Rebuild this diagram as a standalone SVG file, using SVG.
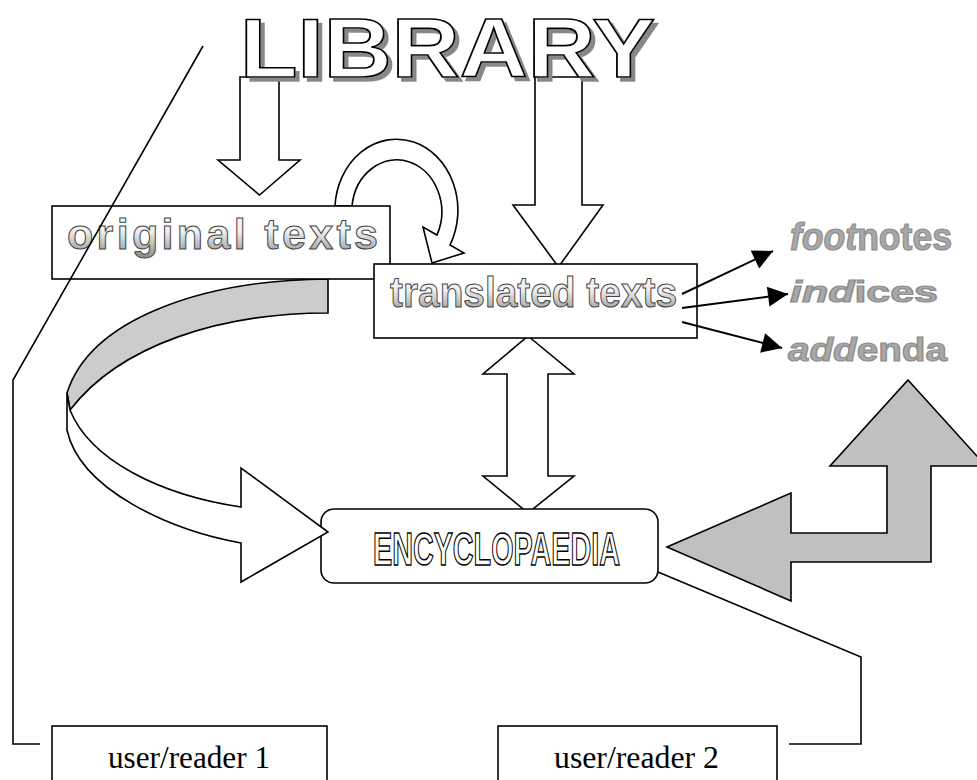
<svg xmlns="http://www.w3.org/2000/svg" width="977" height="780" viewBox="0 0 977 780">
<style>
.ln{fill:none;stroke:#000;stroke-width:1.6}
.box{fill:#fff;stroke:#000;stroke-width:1.6}
.shape{fill:#fff;stroke:#000;stroke-width:1.6;stroke-linejoin:miter}
.gray{fill:#c0c0c0;stroke:#000;stroke-width:1.6}
.wa{font-family:"Liberation Sans",Arial,sans-serif;font-weight:bold}
.gt{fill:url(#gr);stroke:#444;stroke-width:1}
.ft{fill:#a8a8a8;stroke:#8c8c8c;stroke-width:1.2}
.tm{font-family:"Liberation Serif","Times New Roman",serif;font-size:32px;fill:#000}
</style>
<defs>
<linearGradient id="gr" x1="0" y1="0" x2="0" y2="1">
<stop offset="0" stop-color="#ffffff"/>
<stop offset="0.45" stop-color="#eeeeee"/>
<stop offset="1" stop-color="#8a8a8a"/>
</linearGradient>
<filter id="shadow" x="-5%" y="-10%" width="115%" height="130%">
<feFlood flood-color="#888888" result="c"/>
<feComposite in="c" in2="SourceAlpha" operator="in" result="s"/>
<feOffset in="s" dx="4" dy="4" result="o"/>
<feMerge><feMergeNode in="o"/><feMergeNode in="SourceGraphic"/></feMerge>
</filter>
<marker id="ahb" viewBox="0 0 20 20" refX="20" refY="10" markerWidth="22" markerHeight="20" markerUnits="userSpaceOnUse" orient="auto">
<path d="M0,0 L20,10 L0,20 Z" fill="#000"/>
</marker>
</defs>

<g id="block-arrows">
<path class="shape" d="M240,77 L279,77 L279,160 L300,160 L259.5,195 L218,160 L240,160 Z"/>
<path class="shape" d="M535,77 L582,77 L582,205 L603,205 L558.5,267 L513,205 L535,205 Z"/>
<path class="shape" d="M335,206 A61.5,71 0 1 1 450,245 L464,253 L432,263 L423,227 L437,235 A45,52 0 1 0 352,206 Z"/>
<path class="gray" style="fill:#cccccc" d="M328,279 C200,280 90,320 67,393 L70,410 C120,345 220,313 328,313 Z"/>
<path class="shape" d="M528,336 L574,374 L548,374 L548,476 L574,476 L528,513 L483,476 L507,476 L507,374 L483,374 Z"/>
<path class="gray" d="M908,380 L986,466 L931,466 L931,562 L791,562 L791,601 L667,547 L791,493 L791,533 L887,533 L887,466 L830,466 Z"/>
</g>

<g id="library">
<text class="wa" x="240" y="77" font-size="84" textLength="415" lengthAdjust="spacingAndGlyphs" fill="#fff" stroke="#000" stroke-width="1.6" filter="url(#shadow)">LIBRARY</text>
</g>

<g id="original">
<rect class="box" x="52" y="206" width="338" height="73"/>
<text class="wa gt" x="67" y="249" font-size="43" textLength="311" lengthAdjust="spacing">original texts</text>
</g>

<g id="translated">
<rect class="box" x="374" y="264" width="323" height="74"/>
<text class="wa gt" x="390" y="307" font-size="42" textLength="287" lengthAdjust="spacingAndGlyphs">translated texts</text>
</g>

<g id="encyclopaedia">
<rect class="box" x="321" y="509" width="337" height="74" rx="13" ry="13"/>
<text class="wa" x="373" y="565" font-size="47" textLength="247" lengthAdjust="spacingAndGlyphs" fill="#fff" stroke="#000" stroke-width="1.5">ENCYCLOPAEDIA</text>
</g>

<g id="curved-arrow">
<path class="shape" d="M67,393 L67,430 C80,490 170,530 241,543 L241,582 L328,532 L241,468 L241,507 C160,495 90,460 70,410 Z"/>
</g>

<g id="footnotes">
<text class="wa ft" x="790" y="250" font-size="38" textLength="162" lengthAdjust="spacingAndGlyphs"><tspan font-style="italic">foot</tspan>notes</text>
</g>
<g id="indices">
<text class="wa ft" x="790" y="302" font-size="30" textLength="148" lengthAdjust="spacingAndGlyphs"><tspan font-style="italic">ind</tspan>ices</text>
</g>
<g id="addenda">
<text class="wa ft" x="788" y="361" font-size="34" textLength="159" lengthAdjust="spacingAndGlyphs"><tspan font-style="italic">add</tspan>enda</text>
</g>

<g id="reader1">
<rect class="box" x="52" y="726" width="275" height="70"/>
<text class="tm" x="108" y="768" textLength="162" lengthAdjust="spacingAndGlyphs">user/reader 1</text>
</g>
<g id="reader2">
<rect class="box" x="498" y="726" width="279" height="70"/>
<text class="tm" x="554" y="768" textLength="165" lengthAdjust="spacingAndGlyphs">user/reader 2</text>
</g>

<g id="connectors">
<line class="ln" style="stroke-width:2" x1="682" y1="294" x2="773" y2="251" marker-end="url(#ahb)"/>
<line class="ln" style="stroke-width:2" x1="682" y1="308" x2="788" y2="294" marker-end="url(#ahb)"/>
<line class="ln" style="stroke-width:2" x1="682" y1="322" x2="782" y2="348" marker-end="url(#ahb)"/>
<path class="ln" d="M203,46 L13,380 L13,744 L40,744"/>
<path class="ln" d="M658,572 L861,657 L861,744 L789,744"/>
</g>
</svg>
